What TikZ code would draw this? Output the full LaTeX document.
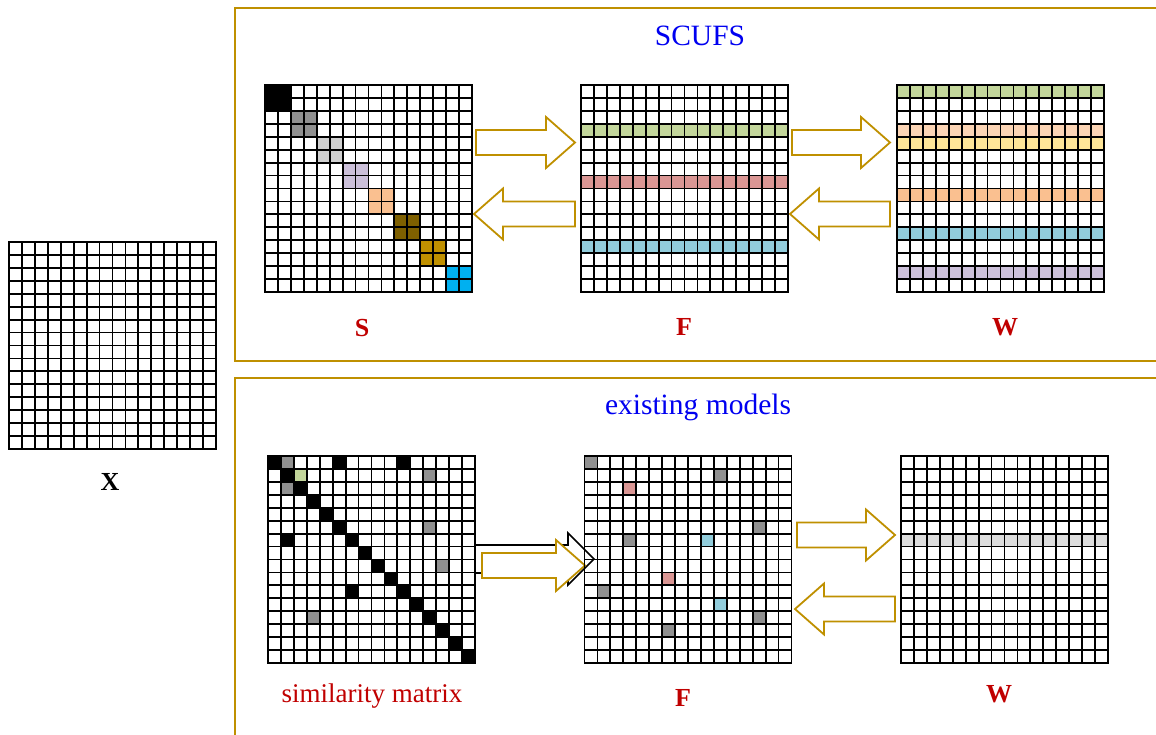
\documentclass[tikz,border=0pt]{standalone}
\usepackage{fontspec}
\setmainfont{Liberation Serif}
\usetikzlibrary{calc}
\definecolor{gold}{HTML}{BF9000}
\definecolor{dred}{HTML}{C00000}
\definecolor{tblue}{HTML}{0000F0}
\definecolor{lgreen}{HTML}{C3D69B}
\definecolor{lred}{HTML}{DA9694}
\definecolor{lblue}{HTML}{92CDDC}
\definecolor{lpeach}{HTML}{FCD5B5}
\definecolor{lyellow}{HTML}{FFE699}
\definecolor{peach}{HTML}{FAC090}
\definecolor{lav}{HTML}{CCC0DA}
\definecolor{mgray}{HTML}{909090}
\definecolor{lgray}{HTML}{D0D0D0}
\definecolor{dbrown}{HTML}{7F6000}
\definecolor{sky}{HTML}{00B0F0}
\definecolor{vlgray}{HTML}{DDDDDD}
\def\cw{12.9375}
\newcommand\cellfill[3]{\fill[#3] ({#2*\cw},{#1*\cw}) rectangle ({(#2+1)*\cw},{(#1+1)*\cw});}
\newcommand\rowfill[2]{\fill[#2] (0,{#1*\cw}) rectangle (207,{(#1+1)*\cw});}
\newcommand\gridlines{\foreach \i in {0,...,16}{\draw[gl] ({\i*\cw},0) -- ({\i*\cw},207); \draw[gl] (0,{\i*\cw}) -- (207,{\i*\cw});}}
\newcommand\blkR[3]{\draw[blk] (#1,{#3-12.5}) -- ({#2-29},{#3-12.5}) -- ({#2-29},{#3-25.5}) -- (#2,#3) -- ({#2-29},{#3+25.5}) -- ({#2-29},{#3+12.5}) -- (#1,{#3+12.5}) -- cycle;}
\newcommand\blkL[3]{\draw[blk] (#2,{#3-12.5}) -- ({#1+29},{#3-12.5}) -- ({#1+29},{#3-25.5}) -- (#1,#3) -- ({#1+29},{#3+25.5}) -- ({#1+29},{#3+12.5}) -- (#2,{#3+12.5}) -- cycle;}
\tikzset{
  mat/.style={minimum size=207pt,inner sep=0pt,outer sep=0pt},
  gl/.style={line width=1.8pt,black,line cap=rect},
  blk/.style={draw=gold,line width=1.8pt,fill=white,line join=miter},
  frame/.style={draw=gold,line width=1.5pt},
  ttl/.style={text=tblue,font=\fontsize{29.5}{31}\selectfont},
  lab/.style={text=dred,font=\fontsize{26}{28}\selectfont\bfseries},
  slab/.style={text=dred,font=\fontsize{27}{29}\selectfont}
}
\begin{document}
\begin{tikzpicture}[x=1pt,y=-1pt]
\useasboundingbox (0,0) rectangle (1156,735);
% frames
\draw[frame] (1160,8) -- (235,8) -- (235,361) -- (1160,361);
\draw[frame] (1160,378) -- (235,378) -- (235,740);
% titles
\node[ttl] (t1) at (700,36) {SCUFS};
\node[ttl] (t2) at (698,407) {existing models};
% matrix nodes
\node[mat] (X) at (112.5,345.5) {};
\node[mat] (S) at (368.5,188.5) {};
\node[mat] (F1) at (684.5,188.5) {};
\node[mat] (W1) at (1000.5,188.5) {};
\node[mat] (M) at (371.5,559.5) {};
\node[mat] (F2) at (688,559.5) {};
\node[mat] (W2) at (1004.5,559.5) {};
% arrows top
\blkR{476}{575}{142.5}
\blkL{474}{575}{214}
\blkR{792}{890}{142.5}
\blkL{790}{890}{214}
% arrows bottom
\draw[black,line width=1.6pt,fill=white] (M.east |- 0,545) -- (568,545) -- (568,533) -- (594,559) -- (568,585) -- (568,573) -- (M.east |- 0,573);
\blkR{482}{585}{565.5}
\blkR{797}{895}{535}
\blkL{795}{895}{609}
% X
\begin{scope}[shift={(X.north west)}]
\gridlines
\end{scope}
% S
\begin{scope}[shift={(S.north west)}]
\foreach \r/\c in {0/0,0/1,1/0,1/1}{\cellfill{\r}{\c}{black}}
\foreach \r/\c in {2/2,2/3,3/2,3/3}{\cellfill{\r}{\c}{mgray}}
\foreach \r/\c in {4/4,4/5,5/4,5/5}{\cellfill{\r}{\c}{lgray}}
\foreach \r/\c in {6/6,6/7,7/6,7/7}{\cellfill{\r}{\c}{lav}}
\foreach \r/\c in {8/8,8/9,9/8,9/9}{\cellfill{\r}{\c}{peach}}
\foreach \r/\c in {10/10,10/11,11/10,11/11}{\cellfill{\r}{\c}{dbrown}}
\foreach \r/\c in {12/12,12/13,13/12,13/13}{\cellfill{\r}{\c}{gold}}
\foreach \r/\c in {14/14,14/15,15/14,15/15}{\cellfill{\r}{\c}{sky}}
\gridlines
\end{scope}
% F1
\begin{scope}[shift={(F1.north west)}]
\rowfill{3}{lgreen}
\rowfill{7}{lred}
\rowfill{12}{lblue}
\gridlines
\end{scope}
% W1
\begin{scope}[shift={(W1.north west)}]
\rowfill{0}{lgreen}
\rowfill{3}{lpeach}
\rowfill{4}{lyellow}
\rowfill{8}{peach}
\rowfill{11}{lblue}
\rowfill{14}{lav}
\gridlines
\end{scope}
% similarity matrix
\begin{scope}[shift={(M.north west)}]
\foreach \i in {0,...,15}{\cellfill{\i}{\i}{black}}
\foreach \r/\c in {0/5,0/10,6/1,10/6}{\cellfill{\r}{\c}{black}}
\foreach \r/\c in {0/1,1/12,2/1,5/12,8/13,12/3}{\cellfill{\r}{\c}{mgray}}
\cellfill{1}{2}{lgreen}
\gridlines
\end{scope}
% F2
\begin{scope}[shift={(F2.north west)}]
\foreach \r/\c in {0/0,1/10,5/13,6/3,10/1,12/13,13/6}{\cellfill{\r}{\c}{mgray}}
\foreach \r/\c in {2/3,9/6}{\cellfill{\r}{\c}{lred}}
\foreach \r/\c in {6/9,11/10}{\cellfill{\r}{\c}{lblue}}
\gridlines
\end{scope}
% W2
\begin{scope}[shift={(W2.north west)}]
\rowfill{6}{vlgray}
\gridlines
\end{scope}
% labels
\node[lab] (lS) at (362,328) {S};
\node[lab] (lF1) at (684,327) {F};
\node[lab] (lW1) at (1005,327) {W};
\node[lab,text=black] (lX) at (110,482) {X};
\node[slab] (lM) at (372,696) {similarity matrix};
\node[lab] (lF2) at (683,698) {F};
\node[lab] (lW2) at (999,694) {W};
\end{tikzpicture}
\end{document}
